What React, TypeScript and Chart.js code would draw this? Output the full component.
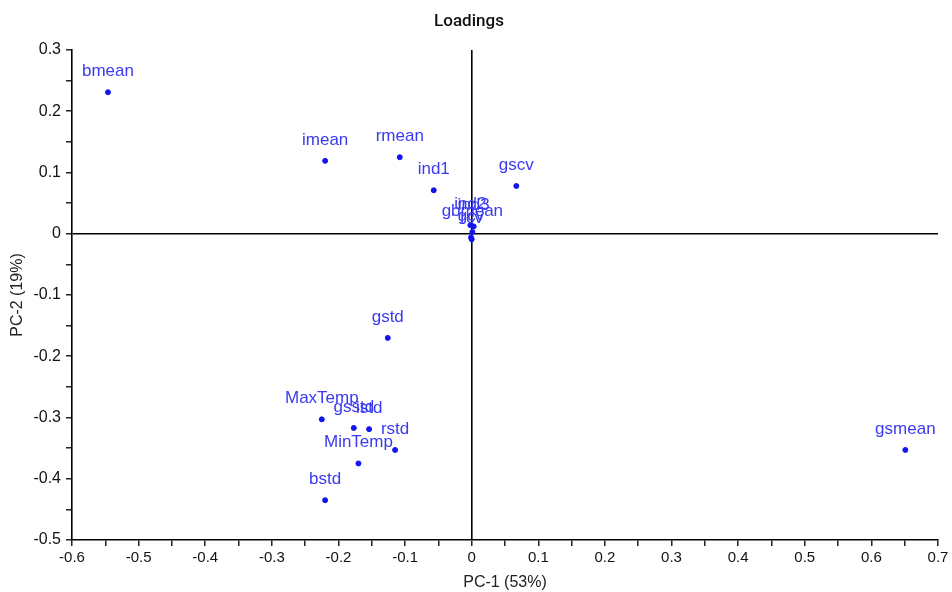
import React, { useEffect, useRef } from "react";
import { Chart, registerables } from "chart.js";

Chart.register(...registerables);

const names = ["bmean", "imean", "rmean", "ind1", "gscv", "ind2", "ind3", "gbmean", "gcv", "rcv", "gstd", "MaxTemp", "gsstd", "istd", "rstd", "MinTemp", "bstd", "gsmean"];
const pc1 = [-0.546, -0.22, -0.108, -0.057, 0.067, -0.002, 0.003, 0.001, -0.001, 0.0, -0.126, -0.225, -0.177, -0.154, -0.115, -0.17, -0.22, 0.651];
const pc2 = [0.231, 0.119, 0.125, 0.071, 0.078, 0.014, 0.012, 0.003, -0.006, -0.009, -0.17, -0.303, -0.317, -0.319, -0.353, -0.375, -0.435, -0.353];

const xTitle = "PC-1 (53%)";
const yTitle = "PC-2 (19%)";
const chartTitle = "Loadings";

const FONT = "'Liberation Sans', Arial, sans-serif";

const labelPlugin = {
  id: "pointLabels",
  afterDatasetsDraw(chart: any) {
    const ctx = chart.ctx;
    const meta = chart.getDatasetMeta(0);
    ctx.save();
    ctx.font = `17px ${FONT}`;
    ctx.fillStyle = "#3a3af0";
    ctx.textAlign = "center";
    ctx.textBaseline = "middle";
    meta.data.forEach((el: any, i: number) => {
      ctx.fillText(names[i], el.x, el.y - 21);
    });
    ctx.restore();
  },
};

export default function App() {
  const ref = useRef<HTMLCanvasElement>(null);
  useEffect(() => {
    if (!ref.current) return;
    const fmt = (v: number) => {
      const r = Math.round(v * 100);
      if (r % 10 !== 0) return "";
      const s = (r / 100).toFixed(1);
      return s === "0.0" || s === "-0.0" ? "0" : s;
    };
    const zeroColor = (c: any) => (c.tick && Math.abs(c.tick.value) < 1e-9 ? "#000" : "rgba(0,0,0,0)");
    const chart = new Chart(ref.current, {
      type: "scatter",
      data: {
        datasets: [
          {
            data: pc1.map((x, i) => ({ x, y: pc2[i] })),
            backgroundColor: "#1414f0",
            borderColor: "#1414f0",
            pointRadius: 2.5,
            pointHoverRadius: 2.5,
          },
        ],
      },
      options: {
        animation: false,
        responsive: false,
        layout: { padding: { left: 0, right: 14, top: 0, bottom: 0 } },
        plugins: {
          legend: { display: false },
          tooltip: { enabled: false },
          title: {
            display: true,
            text: chartTitle,
            color: "#111",
            font: { family: "Roboto, sans-serif", size: 17, weight: "500" as any, lineHeight: 1.2 },
            padding: { top: 12, bottom: 17.6 },
          },
        },
        scales: {
          x: {
            type: "linear",
            min: -0.6,
            max: 0.7,
            afterFit: (s: any) => {
              s.height = 52;
            },
            border: { display: true, color: "#000", width: 1.6 },
            grid: {
              drawOnChartArea: true,
              drawTicks: true,
              tickLength: 6,
              tickColor: "#000",
              tickWidth: 1.3,
              color: zeroColor,
              lineWidth: 1.6,
            },
            ticks: {
              stepSize: 0.05,
              autoSkip: false,
              maxRotation: 0,
              color: "#111",
              padding: 3,
              font: { family: FONT, size: 15 },
              callback: (v: any) => fmt(Number(v)),
            },
            title: {
              display: true,
              text: xTitle,
              color: "#222",
              font: { family: FONT, size: 16 },
              padding: { top: 0, bottom: 0 },
            },
          },
          y: {
            type: "linear",
            min: -0.5,
            max: 0.3,
            afterFit: (s: any) => {
              s.width = 72;
            },
            border: { display: true, color: "#000", width: 1.6 },
            grid: {
              drawOnChartArea: true,
              drawTicks: true,
              tickLength: 6,
              tickColor: "#000",
              tickWidth: 1.3,
              color: zeroColor,
              lineWidth: 1.6,
            },
            ticks: {
              stepSize: 0.05,
              autoSkip: false,
              color: "#111",
              padding: 5,
              font: { family: FONT, size: 16 },
              callback: (v: any) => fmt(Number(v)),
            },
            title: {
              display: true,
              text: yTitle,
              color: "#222",
              font: { family: FONT, size: 16 },
              padding: { top: 8, bottom: 0 },
            },
          },
        },
      },
      plugins: [labelPlugin],
    });
    return () => chart.destroy();
  }, []);
  return (
    <div style={{ position: "absolute", left: 0, top: 0, width: 952, height: 592, background: "#fff" }}>
      <canvas ref={ref} width={952} height={592} style={{ width: 952, height: 592, display: "block" }} />
    </div>
  );
}
